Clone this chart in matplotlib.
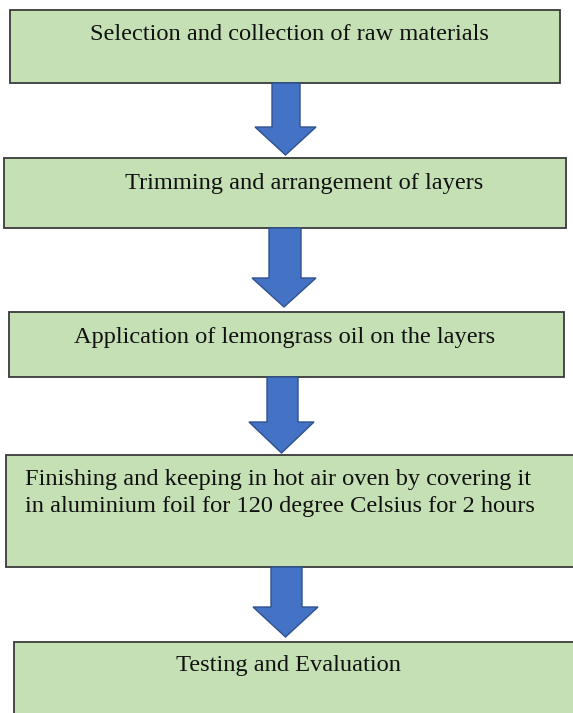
import matplotlib.pyplot as plt
from matplotlib.patches import Rectangle, Polygon

steps = [
    "Selection and collection of raw materials",
    "Trimming and arrangement of layers",
    "Application of lemongrass oil on the layers",
    "Finishing and keeping in hot air oven by covering it\nin aluminium foil for 120 degree Celsius for 2 hours",
    "Testing and Evaluation",
]

# box layout in pixel units: left, top, right, bottom
boxes = [
    (10, 10, 560, 83),
    (4, 158, 566, 228),
    (9, 312, 564, 377),
    (6, 455, 580, 567),
    (14, 642, 580, 720),
]
# text anchor: x, y, horizontal alignment
text_pos = [
    (289, 35, "center"),
    (304, 184, "center"),
    (285, 337, "center"),
    (25, 493, "left"),
    (288, 666, "center"),
]
# arrows: shaft left, shaft right, head left, head right, top, head start, tip
arrows = [
    (272, 300, 255, 316, 83, 127, 155),
    (269, 301, 252, 316, 228, 278, 307),
    (267, 298, 249, 314, 377, 422, 453),
    (271, 302, 253, 318, 567, 607, 637),
]

fig = plt.figure(figsize=(5.73, 7.13), dpi=100)
ax = fig.add_axes([0, 0, 1, 1])
ax.set_xlim(0, 573)
ax.set_ylim(713, 0)
ax.axis("off")

for (l, t, r, b), label, (tx, ty, ha) in zip(boxes, steps, text_pos):
    ax.add_patch(Rectangle((l, t), r - l, b - t, facecolor="#C5E0B4",
                           edgecolor="#3a3a3a", linewidth=1.3))
    ax.text(tx, ty, label, ha=ha, va="center", fontsize=17.6,
            family="Liberation Serif", color="#111111", linespacing=1.32)

for sl, sr, hl, hr, top, hs, tip in arrows:
    pts = [(sl, top), (sr, top), (sr, hs), (hr, hs), ((hl + hr) / 2, tip),
           (hl, hs), (sl, hs)]
    ax.add_patch(Polygon(pts, closed=True, facecolor="#4472C4",
                         edgecolor="#2F528F", linewidth=1.0))

fig.savefig("out.png", dpi=100)
